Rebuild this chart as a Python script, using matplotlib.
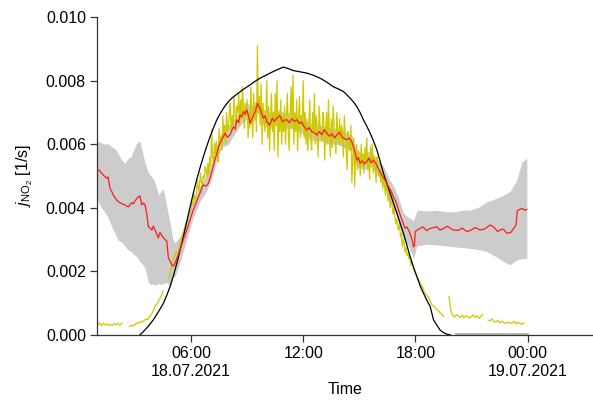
import numpy as np
import matplotlib
matplotlib.use("Agg")
import matplotlib.pyplot as plt

plt.rcParams['font.family'] = ['Liberation Sans', 'DejaVu Sans']
plt.rcParams['mathtext.fontset'] = 'custom'
plt.rcParams['mathtext.rm'] = 'Liberation Sans'
plt.rcParams['mathtext.it'] = 'Liberation Sans:italic'

# ---- data (time in hours since 18.07.2021 00:00) ----
model_t = [3.27, 3.45, 3.70, 3.98, 4.25, 4.52, 4.70, 4.88, 5.06, 5.24, 5.41, 5.59, 5.77, 5.95, 6.12, 6.30,
           6.48, 6.66, 6.84, 7.02, 7.20, 7.38, 7.55, 7.73, 7.91, 8.09, 8.30, 8.53, 8.85, 9.16, 9.42, 9.69,
           9.96, 10.23, 10.58, 10.94, 11.20, 11.47, 11.83, 12.19, 12.55, 12.90, 13.25, 13.61, 13.88, 14.15,
           14.33, 14.51, 14.69, 14.87, 15.05, 15.22, 15.40, 15.58, 15.76, 15.94, 16.11, 16.29, 16.47, 16.65,
           16.83, 17.01, 17.18, 17.36, 17.54, 17.72, 17.90, 18.08, 18.25, 18.43, 18.61, 18.79, 18.97, 19.15,
           19.32, 19.50, 19.68, 19.86]
model_v = [0.00000, 0.00010, 0.00026, 0.00047, 0.00072, 0.00099, 0.00124, 0.00152, 0.00187, 0.00225, 0.00266,
           0.00309, 0.00356, 0.00403, 0.00446, 0.00488, 0.00526, 0.00561, 0.00594, 0.00624, 0.00652, 0.00677,
           0.00696, 0.00713, 0.00728, 0.00740, 0.00751, 0.00761, 0.00775, 0.00787, 0.00798, 0.00808, 0.00816,
           0.00824, 0.00834, 0.00843, 0.00838, 0.00832, 0.00828, 0.00824, 0.00817, 0.00808, 0.00796, 0.00781,
           0.00774, 0.00766, 0.00756, 0.00745, 0.00733, 0.00718, 0.00699, 0.00677, 0.00657, 0.00635, 0.00610,
           0.00582, 0.00547, 0.00509, 0.00477, 0.00446, 0.00414, 0.00383, 0.00352, 0.00320, 0.00283, 0.00246,
           0.00213, 0.00183, 0.00155, 0.00131, 0.00109, 0.00089, 0.00047, 0.00030, 0.00015, 0.00007, 0.00002,
           0.00000]

median_t = [1.00, 1.08, 1.20, 1.31, 1.40, 1.49, 1.56, 1.67, 1.75, 1.84, 1.93, 2.02, 2.10, 2.20, 2.33, 2.47,
            2.56, 2.65, 2.74, 2.83, 2.92, 3.00, 3.09, 3.18, 3.27, 3.36, 3.45, 3.54, 3.63, 3.72, 3.81, 3.90,
            3.98, 4.07, 4.16, 4.25, 4.34, 4.43, 4.52, 4.61, 4.70, 4.79, 4.88, 4.97, 5.06, 5.14, 5.27, 5.41,
            5.59, 5.77, 5.95, 6.12, 6.30, 6.48, 6.57, 6.66, 6.80, 6.93, 7.02, 7.11, 7.25, 7.38, 7.51, 7.64,
            7.82, 7.95, 8.09, 8.17, 8.26, 8.35, 8.45, 8.54, 8.62, 8.71, 8.80, 8.89, 8.98, 9.07, 9.16, 9.25,
            9.34, 9.45, 9.55, 9.62, 9.69, 9.78, 9.87, 9.96, 10.05, 10.20, 10.35, 10.45, 10.59, 10.75, 10.90,
            11.00, 11.13, 11.25, 11.40, 11.52, 11.66, 11.80, 11.92, 12.05, 12.19, 12.32, 12.45, 12.60, 12.73,
            12.85, 13.00, 13.12, 13.26, 13.40, 13.55, 13.67, 13.80, 13.95, 14.08, 14.20, 14.33, 14.46, 14.60,
            14.70, 14.87, 14.95, 15.04, 15.15, 15.28, 15.40, 15.52, 15.64, 15.76, 15.88, 16.00, 16.11, 16.22,
            16.35, 16.47, 16.60, 16.72, 16.82, 16.95, 17.10, 17.20, 17.28, 17.36, 17.45, 17.54, 17.63, 17.72,
            17.82, 17.90, 17.95, 17.99, 18.10, 18.25, 18.40, 18.60, 18.79, 19.00, 19.15, 19.32, 19.50, 19.70,
            20.02, 20.30, 20.50, 20.75, 21.00, 21.20, 21.46, 21.70, 22.00, 22.20, 22.40, 22.53, 22.70, 22.89,
            23.10, 23.25, 23.38, 23.45, 23.52, 23.70, 23.85, 23.96]
median_v = [0.00521, 0.00519, 0.00510, 0.00503, 0.00498, 0.00493, 0.00497, 0.00461, 0.00452, 0.00440, 0.00432,
            0.00425, 0.00420, 0.00416, 0.00412, 0.00409, 0.00405, 0.00403, 0.00410, 0.00416, 0.00412, 0.00422,
            0.00428, 0.00435, 0.00437, 0.00409, 0.00415, 0.00409, 0.00380, 0.00340, 0.00336, 0.00330, 0.00342,
            0.00330, 0.00318, 0.00305, 0.00322, 0.00314, 0.00306, 0.00299, 0.00296, 0.00241, 0.00232, 0.00220,
            0.00216, 0.00225, 0.00245, 0.00267, 0.00300, 0.00330, 0.00362, 0.00393, 0.00420, 0.00446, 0.00462,
            0.00472, 0.00468, 0.00477, 0.00495, 0.00514, 0.00545, 0.00572, 0.00598, 0.00614, 0.00635, 0.00622,
            0.00630, 0.00642, 0.00655, 0.00648, 0.00677, 0.00668, 0.00692, 0.00686, 0.00703, 0.00695, 0.00708,
            0.00690, 0.00666, 0.00680, 0.00692, 0.00705, 0.00729, 0.00720, 0.00713, 0.00696, 0.00682, 0.00690,
            0.00671, 0.00660, 0.00682, 0.00672, 0.00682, 0.00690, 0.00670, 0.00676, 0.00677, 0.00668, 0.00680,
            0.00672, 0.00677, 0.00665, 0.00670, 0.00655, 0.00645, 0.00652, 0.00640, 0.00636, 0.00629, 0.00640,
            0.00630, 0.00646, 0.00635, 0.00625, 0.00633, 0.00620, 0.00629, 0.00638, 0.00622, 0.00618, 0.00614,
            0.00620, 0.00608, 0.00590, 0.00550, 0.00558, 0.00540, 0.00548, 0.00538, 0.00545, 0.00556, 0.00542,
            0.00550, 0.00540, 0.00525, 0.00514, 0.00500, 0.00490, 0.00477, 0.00462, 0.00450, 0.00435, 0.00420,
            0.00393, 0.00375, 0.00362, 0.00348, 0.00335, 0.00340, 0.00330, 0.00318, 0.00299, 0.00277, 0.00280,
            0.00325, 0.00330, 0.00335, 0.00340, 0.00328, 0.00335, 0.00338, 0.00340, 0.00330, 0.00334, 0.00342,
            0.00330, 0.00329, 0.00336, 0.00325, 0.00330, 0.00338, 0.00330, 0.00333, 0.00346, 0.00339, 0.00325,
            0.00330, 0.00333, 0.00320, 0.00322, 0.00335, 0.00345, 0.00390, 0.00393, 0.00398, 0.00392, 0.00395]

band_t = [1.00, 1.20, 1.40, 1.55, 1.80, 1.95, 2.09, 2.30, 2.45, 2.65, 2.80, 2.95, 3.09, 3.27, 3.40, 3.54,
          3.72, 3.85, 3.99, 4.12, 4.26, 4.40, 4.52, 4.70, 4.88, 5.03, 5.14, 5.41, 5.77, 6.12, 6.48, 6.80,
          7.11, 7.38, 7.64, 8.00, 8.30, 8.62, 8.98, 9.30, 9.55, 9.87, 10.20, 10.60, 11.00, 11.40, 11.80, 12.20,
          12.60, 13.00, 13.40, 13.80, 14.20, 14.60, 14.87, 15.20, 15.60, 16.00, 16.30, 16.60, 16.90, 17.10,
          17.36, 17.63, 17.90, 18.08, 18.25, 18.60, 19.15, 19.60, 20.04, 20.50, 20.93, 21.40, 21.82, 22.35,
          22.72, 23.07, 23.43, 23.70, 23.96]
band_lo = [0.00424, 0.00400, 0.00385, 0.00370, 0.00335, 0.00318, 0.00298, 0.00292, 0.00280, 0.00266, 0.00262,
           0.00252, 0.00247, 0.00230, 0.00222, 0.00210, 0.00165, 0.00158, 0.00160, 0.00156, 0.00162, 0.00158,
           0.00162, 0.00165, 0.00150, 0.00180, 0.00183, 0.00230, 0.00300, 0.00370, 0.00420, 0.00450, 0.00490,
           0.00550, 0.00590, 0.00600, 0.00630, 0.00660, 0.00680, 0.00660, 0.00700, 0.00660, 0.00650, 0.00660,
           0.00650, 0.00650, 0.00640, 0.00620, 0.00610, 0.00610, 0.00600, 0.00600, 0.00590, 0.00580, 0.00530,
           0.00520, 0.00530, 0.00500, 0.00470, 0.00430, 0.00390, 0.00350, 0.00300, 0.00280, 0.00240, 0.00280,
           0.00282, 0.00285, 0.00283, 0.00280, 0.00277, 0.00275, 0.00272, 0.00268, 0.00262, 0.00245, 0.00230,
           0.00221, 0.00236, 0.00240, 0.00241]
band_hi = [0.00610, 0.00605, 0.00600, 0.00602, 0.00590, 0.00585, 0.00572, 0.00550, 0.00540, 0.00556, 0.00561,
           0.00585, 0.00603, 0.00610, 0.00575, 0.00540, 0.00510, 0.00500, 0.00490, 0.00470, 0.00440, 0.00452,
           0.00460, 0.00403, 0.00351, 0.00300, 0.00290, 0.00310, 0.00360, 0.00420, 0.00470, 0.00500, 0.00540,
           0.00600, 0.00640, 0.00660, 0.00680, 0.00710, 0.00730, 0.00720, 0.00750, 0.00710, 0.00700, 0.00710,
           0.00700, 0.00700, 0.00690, 0.00670, 0.00660, 0.00660, 0.00650, 0.00650, 0.00640, 0.00630, 0.00580,
           0.00570, 0.00580, 0.00550, 0.00530, 0.00490, 0.00460, 0.00430, 0.00383, 0.00370, 0.00360, 0.00390,
           0.00392, 0.00390, 0.00392, 0.00388, 0.00387, 0.00392, 0.00393, 0.00402, 0.00419, 0.00430, 0.00440,
           0.00452, 0.00488, 0.00545, 0.00556]

nan = np.nan
# measured j(NO2): night/morning part, 6-minute steps from 01:00 (nan = gap)
meas_a_start, meas_a_step = 1.0, 0.1
meas_a_v = [
    0.00030, 0.00038, 0.00028, 0.00036, 0.00031, 0.00034, 0.00029, 0.00033, 0.00030, 0.00035,
    0.00032, 0.00036, 0.00030, 0.00038, nan, nan, nan, 0.00026, 0.00030, 0.00028,
    0.00032, 0.00038, 0.00036, 0.00042, 0.00040, 0.00046, 0.00050, 0.00048, 0.00058, 0.00066,
    0.00080, 0.00092, 0.00098, 0.00112, 0.00120, 0.00138, nan, nan, 0.00176, 0.00198,
    0.00222, 0.00246, 0.00262, 0.00258, 0.00290, 0.00305, 0.00322, 0.00348, 0.00362, 0.00380,
]
# daytime part, 3-minute steps from 06:00
meas_b_start, meas_b_step = 6.0, 0.05
meas_b_v = [
    0.00395, 0.00420, 0.00410, 0.00445, 0.00430, 0.00418, 0.00460, 0.00488, 0.00450, 0.00470,
    0.00510, 0.00480, 0.00470, 0.00500, 0.00492, 0.00530, 0.00520, 0.00495, 0.00540, 0.00505,
    0.00560, 0.00530, 0.00645, 0.00560, 0.00540, 0.00603, 0.00570, 0.00610, 0.00580, 0.00545,
    0.00650, 0.00600, 0.00625, 0.00580, 0.00690, 0.00620, 0.00660, 0.00600, 0.00700, 0.00640,
    0.00650, 0.00700, 0.00729, 0.00640, 0.00690, 0.00660, 0.00750, 0.00700, 0.00640, 0.00720,
    0.00700, 0.00760, 0.00660, 0.00740, 0.00680, 0.00780, 0.00720, 0.00650, 0.00730, 0.00690,
    0.00740, 0.00620, 0.00700, 0.00650, 0.00780, 0.00700, 0.00620, 0.00760, 0.00680, 0.00720,
    0.00640, 0.00910, 0.00700, 0.00750, 0.00660, 0.00790, 0.00600, 0.00730, 0.00680, 0.00640,
    0.00690, 0.00800, 0.00620, 0.00720, 0.00580, 0.00680, 0.00760, 0.00640, 0.00700, 0.00580,
    0.00760, 0.00660, 0.00800, 0.00560, 0.00700, 0.00640, 0.00740, 0.00600, 0.00690, 0.00640,
    0.00720, 0.00600, 0.00680, 0.00760, 0.00640, 0.00580, 0.00700, 0.00780, 0.00650, 0.00818,
    0.00600, 0.00700, 0.00640, 0.00740, 0.00580, 0.00680, 0.00750, 0.00620, 0.00690, 0.00660,
    0.00800, 0.00620, 0.00700, 0.00600, 0.00680, 0.00580, 0.00660, 0.00740, 0.00620, 0.00582,
    0.00700, 0.00640, 0.00760, 0.00600, 0.00690, 0.00640, 0.00560, 0.00720, 0.00660, 0.00620,
    0.00610, 0.00700, 0.00680, 0.00550, 0.00640, 0.00700, 0.00600, 0.00740, 0.00630, 0.00560,
    0.00680, 0.00590, 0.00720, 0.00660, 0.00620, 0.00570, 0.00700, 0.00640, 0.00600, 0.00680,
    0.00600, 0.00660, 0.00640, 0.00560, 0.00690, 0.00620, 0.00580, 0.00520, 0.00640, 0.00600,
    0.00580, 0.00660, 0.00480, 0.00560, 0.00620, 0.00466, 0.00560, 0.00600, 0.00520, 0.00580,
    0.00560, 0.00500, 0.00600, 0.00530, 0.00570, 0.00510, 0.00590, 0.00545, 0.00620, 0.00520,
    0.00560, 0.00490, 0.00592, 0.00540, 0.00600, 0.00510, 0.00560, 0.00530, 0.00480, 0.00560,
    0.00540, 0.00500, 0.00520, 0.00480, 0.00510, 0.00460, 0.00490, 0.00470, 0.00440, 0.00488,
    0.00450, 0.00420, 0.00460, 0.00400, 0.00425, 0.00410, 0.00380, 0.00400, 0.00372, 0.00350,
    0.00365, 0.00340, 0.00330, 0.00350, 0.00310, 0.00320, 0.00277, 0.00300, 0.00285, 0.00260,
    0.00275, 0.00250, 0.00258, 0.00240, 0.00245, 0.00220, 0.00232, 0.00215, 0.00210, 0.00200,
]
# evening/night part, 6-minute steps from 18:00
meas_c_start, meas_c_step = 18.0, 0.1
meas_c_v = [
    0.00195, 0.00182, 0.00170, 0.00158, 0.00148, 0.00132, 0.00125, 0.00118, 0.00105, 0.00092,
    0.00090, 0.00082, 0.00078, 0.00070, 0.00066, 0.00058, nan, nan, 0.00120, 0.00075,
    0.00060, 0.00056, 0.00064, 0.00058, 0.00055, 0.00062, 0.00054, 0.00060, 0.00057, 0.00052,
    0.00058, 0.00062, 0.00055, 0.00060, 0.00052, 0.00058, 0.00064, nan, nan, 0.00046,
    0.00044, 0.00050, 0.00042, 0.00040, 0.00046, 0.00038, 0.00042, 0.00040, 0.00036, 0.00038,
    0.00040, 0.00036, 0.00038, 0.00042, 0.00034, 0.00040, 0.00036, 0.00033, 0.00038,
]

night_t = [20.15, 21.0, 22.0, 23.0, 24.0]
night_v = [0.00003, 0.00003, 0.00003, 0.00003, 0.00003]

xticks = [6, 12, 18, 24]
xticklabels = ['06:00\n18.07.2021', '12:00', '18:00', '00:00\n19.07.2021']
yticks = [0.000, 0.002, 0.004, 0.006, 0.008, 0.010]

# ---- plot ----
fig = plt.figure(figsize=(5.93, 4.0), dpi=100)
ax = fig.add_axes([0.1636, 0.163, 0.8364, 0.794])

ax.fill_between(band_t, band_lo, band_hi, color='#cccccc', lw=0, zorder=1)
ax.plot(night_t, night_v, color='#aaaaaa', lw=1.2, zorder=1.5)
segments = [(meas_a_start, meas_a_step, meas_a_v, meas_b_start),
            (meas_b_start, meas_b_step, meas_b_v, meas_c_start),
            (meas_c_start, meas_c_step, meas_c_v, None)]
ts, vs = [], []
for start, step, vals, _ in segments:
    ts.append(start + step * np.arange(len(vals)))
    vs.append(np.asarray(vals, dtype=float))
ax.plot(np.concatenate(ts), np.concatenate(vs), color='#d0c800', lw=0.9, zorder=2)
ax.plot(model_t, model_v, color='black', lw=0.9, zorder=3)
ax.plot(median_t, median_v, color='#ff1a1a', lw=0.9, zorder=4)

ax.set_xlim(0.97, 27.5)
ax.set_ylim(0, 0.010)
ax.set_xticks(xticks)
ax.set_xticklabels(xticklabels, fontsize=11.5, linespacing=1.25)
ax.set_yticks(yticks)
ax.set_yticklabels([f'{v:.3f}' for v in yticks], fontsize=11.5)
ax.tick_params(direction='out', length=5, width=0.9, color='#333333', pad=3)

for s in ['top', 'right']:
    ax.spines[s].set_visible(False)
for s in ['left', 'bottom']:
    ax.spines[s].set_color('#333333')
    ax.spines[s].set_linewidth(0.9)

ax.set_xlabel('Time', fontsize=11.5, labelpad=2)
ax.set_ylabel(r'$j_{\mathrm{NO_2}}$ [1/s]', fontsize=11.5, labelpad=8)

fig.savefig('out.png', dpi=100)
